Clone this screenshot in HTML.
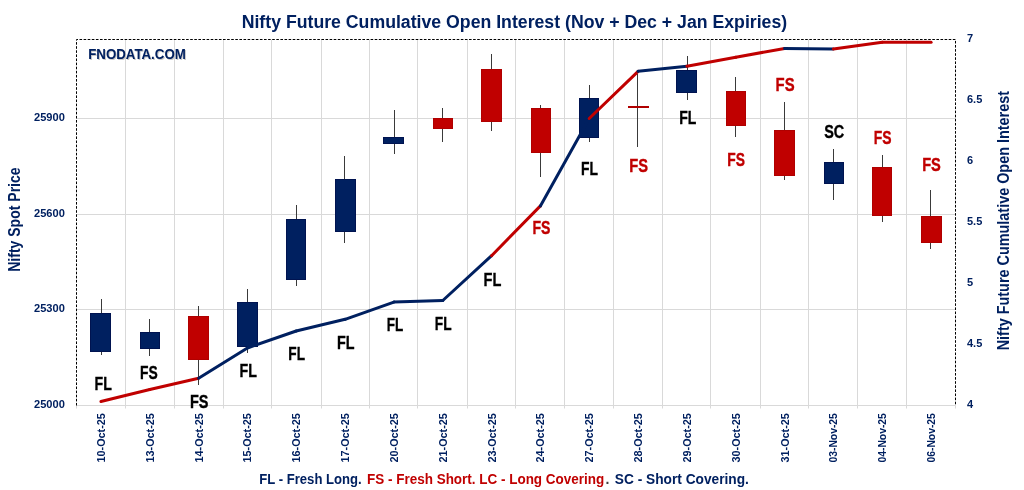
<!DOCTYPE html><html><head><meta charset="utf-8"><style>html,body{margin:0;padding:0;background:#fff;}svg{display:block;will-change:transform;}text{font-family:"Liberation Sans",sans-serif;font-weight:bold;}</style></head><body>
<svg width="1024" height="490" viewBox="0 0 1024 490">
<rect x="0" y="0" width="1024" height="490" fill="#fff"/>
<path d="M76.5 118.5H955.5 M76.5 214.5H955.5 M76.5 309.5H955.5 M76.5 405.5H955.5 M76.5 405.5V408.5 M125.5 39.5V408.5 M174.5 39.5V408.5 M223.5 39.5V408.5 M271.5 39.5V408.5 M321.5 39.5V408.5 M369.5 39.5V408.5 M417.5 39.5V408.5 M467.5 39.5V408.5 M515.5 39.5V408.5 M564.5 39.5V408.5 M613.5 39.5V408.5 M662.5 39.5V408.5 M710.5 39.5V408.5 M760.5 39.5V408.5 M808.5 39.5V408.5 M857.5 39.5V408.5 M906.5 39.5V408.5 M955.5 405.5V408.5" stroke="#d9d9d9" stroke-width="1" fill="none"/>
<path d="M101.5 299V355" stroke="#3a3a3a" stroke-width="1"/>
<rect x="90.5" y="313.5" width="20" height="38" fill="#002060" stroke="#001350" stroke-width="1"/>
<path d="M149.5 319V356" stroke="#3a3a3a" stroke-width="1"/>
<rect x="140.5" y="332.5" width="19" height="16" fill="#002060" stroke="#001350" stroke-width="1"/>
<path d="M198.5 306V385" stroke="#3a3a3a" stroke-width="1"/>
<rect x="188.5" y="316.5" width="20" height="43" fill="#C00000" stroke="#b00000" stroke-width="1"/>
<path d="M247.5 289V353" stroke="#3a3a3a" stroke-width="1"/>
<rect x="237.5" y="302.5" width="20" height="44" fill="#002060" stroke="#001350" stroke-width="1"/>
<path d="M296.5 205V286" stroke="#3a3a3a" stroke-width="1"/>
<rect x="286.5" y="219.5" width="19" height="60" fill="#002060" stroke="#001350" stroke-width="1"/>
<path d="M344.5 156V243" stroke="#3a3a3a" stroke-width="1"/>
<rect x="335.5" y="179.5" width="20" height="52" fill="#002060" stroke="#001350" stroke-width="1"/>
<path d="M394.5 110V154" stroke="#3a3a3a" stroke-width="1"/>
<rect x="383.5" y="137.5" width="20" height="6" fill="#002060" stroke="#001350" stroke-width="1"/>
<path d="M442.5 108V142" stroke="#3a3a3a" stroke-width="1"/>
<rect x="433.5" y="118.5" width="19" height="10" fill="#C00000" stroke="#b00000" stroke-width="1"/>
<path d="M491.5 54V131" stroke="#3a3a3a" stroke-width="1"/>
<rect x="481.5" y="69.5" width="20" height="52" fill="#C00000" stroke="#b00000" stroke-width="1"/>
<path d="M540.5 105V177" stroke="#3a3a3a" stroke-width="1"/>
<rect x="531.5" y="108.5" width="19" height="44" fill="#C00000" stroke="#b00000" stroke-width="1"/>
<path d="M589.5 85V142" stroke="#3a3a3a" stroke-width="1"/>
<rect x="579.5" y="98.5" width="19" height="39" fill="#002060" stroke="#001350" stroke-width="1"/>
<path d="M637.5 74V147" stroke="#3a3a3a" stroke-width="1"/>
<rect x="628.5" y="106.5" width="20" height="1" fill="#C00000" stroke="#b00000" stroke-width="1"/>
<path d="M687.5 56V100" stroke="#3a3a3a" stroke-width="1"/>
<rect x="676.5" y="70.5" width="20" height="22" fill="#002060" stroke="#001350" stroke-width="1"/>
<path d="M735.5 77V137" stroke="#3a3a3a" stroke-width="1"/>
<rect x="726.5" y="91.5" width="19" height="34" fill="#C00000" stroke="#b00000" stroke-width="1"/>
<path d="M784.5 102V180" stroke="#3a3a3a" stroke-width="1"/>
<rect x="774.5" y="130.5" width="20" height="45" fill="#C00000" stroke="#b00000" stroke-width="1"/>
<path d="M833.5 149V200" stroke="#3a3a3a" stroke-width="1"/>
<rect x="824.5" y="162.5" width="19" height="21" fill="#002060" stroke="#001350" stroke-width="1"/>
<path d="M882.5 155V222" stroke="#3a3a3a" stroke-width="1"/>
<rect x="872.5" y="167.5" width="19" height="48" fill="#C00000" stroke="#b00000" stroke-width="1"/>
<path d="M930.5 190V249" stroke="#3a3a3a" stroke-width="1"/>
<rect x="921.5" y="216.5" width="20" height="26" fill="#C00000" stroke="#b00000" stroke-width="1"/>
<path d="M100.9 401.5L149.8 389.5" stroke="#C00000" stroke-width="3" stroke-linecap="round" fill="none"/>
<path d="M149.8 389.5L198.6 378.2" stroke="#C00000" stroke-width="3" stroke-linecap="round" fill="none"/>
<path d="M198.6 378.2L247.4 348.0" stroke="#002060" stroke-width="3" stroke-linecap="round" fill="none"/>
<path d="M247.4 348.0L296.2 331.0" stroke="#002060" stroke-width="3" stroke-linecap="round" fill="none"/>
<path d="M296.2 331.0L345.1 319.3" stroke="#002060" stroke-width="3" stroke-linecap="round" fill="none"/>
<path d="M345.1 319.3L393.9 302.1" stroke="#002060" stroke-width="3" stroke-linecap="round" fill="none"/>
<path d="M393.9 302.1L442.8 300.5" stroke="#002060" stroke-width="3" stroke-linecap="round" fill="none"/>
<path d="M442.8 300.5L491.6 255.7" stroke="#002060" stroke-width="3" stroke-linecap="round" fill="none"/>
<path d="M491.6 255.7L540.4 205.9" stroke="#C00000" stroke-width="3" stroke-linecap="round" fill="none"/>
<path d="M540.4 205.9L589.2 118.5" stroke="#002060" stroke-width="3" stroke-linecap="round" fill="none"/>
<path d="M589.2 118.5L638.1 71.3" stroke="#C00000" stroke-width="3" stroke-linecap="round" fill="none"/>
<path d="M638.1 71.3L686.9 66.3" stroke="#002060" stroke-width="3" stroke-linecap="round" fill="none"/>
<path d="M686.9 66.3L735.8 57.2" stroke="#C00000" stroke-width="3" stroke-linecap="round" fill="none"/>
<path d="M735.8 57.2L784.6 48.4" stroke="#C00000" stroke-width="3" stroke-linecap="round" fill="none"/>
<path d="M784.6 48.4L833.4 49.1" stroke="#002060" stroke-width="3" stroke-linecap="round" fill="none"/>
<path d="M833.4 49.1L882.2 42.3" stroke="#C00000" stroke-width="3" stroke-linecap="round" fill="none"/>
<path d="M882.2 42.3L931.1 42.3" stroke="#C00000" stroke-width="3" stroke-linecap="round" fill="none"/>
<path d="M76.5 405.5V39.5H955.5V405.5" fill="none" stroke="#000" stroke-width="1" stroke-dasharray="2.6 1.5"/>
<text x="94.6" y="389.8" font-size="18" fill="#000" stroke="#000" stroke-width="0.35" textLength="17.3" lengthAdjust="spacingAndGlyphs">FL</text>
<text x="140.0" y="378.7" font-size="18" fill="#000" stroke="#000" stroke-width="0.35" textLength="17.7" lengthAdjust="spacingAndGlyphs">FS</text>
<text x="190.0" y="407.7" font-size="18" fill="#000" stroke="#000" stroke-width="0.35" textLength="18.5" lengthAdjust="spacingAndGlyphs">FS</text>
<text x="239.6" y="376.5" font-size="18" fill="#000" stroke="#000" stroke-width="0.35" textLength="17.4" lengthAdjust="spacingAndGlyphs">FL</text>
<text x="288.3" y="360.0" font-size="18" fill="#000" stroke="#000" stroke-width="0.35" textLength="16.7" lengthAdjust="spacingAndGlyphs">FL</text>
<text x="337.0" y="348.7" font-size="18" fill="#000" stroke="#000" stroke-width="0.35" textLength="17.5" lengthAdjust="spacingAndGlyphs">FL</text>
<text x="386.7" y="330.5" font-size="18" fill="#000" stroke="#000" stroke-width="0.35" textLength="16.5" lengthAdjust="spacingAndGlyphs">FL</text>
<text x="434.8" y="329.8" font-size="18" fill="#000" stroke="#000" stroke-width="0.35" textLength="16.8" lengthAdjust="spacingAndGlyphs">FL</text>
<text x="483.6" y="286.0" font-size="18" fill="#000" stroke="#000" stroke-width="0.35" textLength="17.8" lengthAdjust="spacingAndGlyphs">FL</text>
<text x="532.4" y="234.1" font-size="18" fill="#C00000" stroke="#C00000" stroke-width="0.35" textLength="18.0" lengthAdjust="spacingAndGlyphs">FS</text>
<text x="581.1" y="174.8" font-size="18" fill="#000" stroke="#000" stroke-width="0.35" textLength="17.0" lengthAdjust="spacingAndGlyphs">FL</text>
<text x="629.3" y="172.0" font-size="18" fill="#C00000" stroke="#C00000" stroke-width="0.35" textLength="18.8" lengthAdjust="spacingAndGlyphs">FS</text>
<text x="679.2" y="124.1" font-size="18" fill="#000" stroke="#000" stroke-width="0.35" textLength="17.1" lengthAdjust="spacingAndGlyphs">FL</text>
<text x="727.3" y="165.6" font-size="18" fill="#C00000" stroke="#C00000" stroke-width="0.35" textLength="17.7" lengthAdjust="spacingAndGlyphs">FS</text>
<text x="775.6" y="91.0" font-size="18" fill="#C00000" stroke="#C00000" stroke-width="0.35" textLength="19.0" lengthAdjust="spacingAndGlyphs">FS</text>
<text x="824.2" y="138.2" font-size="18" fill="#000" stroke="#000" stroke-width="0.35" textLength="20.0" lengthAdjust="spacingAndGlyphs">SC</text>
<text x="873.7" y="144.3" font-size="18" fill="#C00000" stroke="#C00000" stroke-width="0.35" textLength="17.8" lengthAdjust="spacingAndGlyphs">FS</text>
<text x="922.2" y="171.4" font-size="18" fill="#C00000" stroke="#C00000" stroke-width="0.35" textLength="18.7" lengthAdjust="spacingAndGlyphs">FS</text>
<text x="241.7" y="28.4" font-size="18" fill="#002060" textLength="545.5" lengthAdjust="spacingAndGlyphs">Nifty Future Cumulative Open Interest (Nov + Dec + Jan Expiries)</text>
<text x="89.2" y="60" font-size="14" fill="#c8c8c8" textLength="97.6" lengthAdjust="spacingAndGlyphs">FNODATA.COM</text>
<text x="88.2" y="59" font-size="14" fill="#002060" textLength="97.6" lengthAdjust="spacingAndGlyphs">FNODATA.COM</text>
<text x="64.8" y="121.2" font-size="11" fill="#002060" text-anchor="end" textLength="30.8" lengthAdjust="spacingAndGlyphs">25900</text>
<text x="64.8" y="216.7" font-size="11" fill="#002060" text-anchor="end" textLength="30.8" lengthAdjust="spacingAndGlyphs">25600</text>
<text x="64.8" y="312.2" font-size="11" fill="#002060" text-anchor="end" textLength="30.8" lengthAdjust="spacingAndGlyphs">25300</text>
<text x="64.8" y="408.2" font-size="11" fill="#002060" text-anchor="end" textLength="30.8" lengthAdjust="spacingAndGlyphs">25000</text>
<text x="967" y="408.3" font-size="11" fill="#002060">4</text>
<text x="967" y="347.3" font-size="11" fill="#002060">4.5</text>
<text x="967" y="286.3" font-size="11" fill="#002060">5</text>
<text x="967" y="225.3" font-size="11" fill="#002060">5.5</text>
<text x="967" y="164.3" font-size="11" fill="#002060">6</text>
<text x="967" y="103.3" font-size="11" fill="#002060">6.5</text>
<text x="967" y="42.3" font-size="11" fill="#002060">7</text>
<text transform="translate(104.9,462.5) rotate(-90)" x="0" y="0" font-size="11.5" fill="#002060" textLength="49.3" lengthAdjust="spacingAndGlyphs">10-Oct-25</text>
<text transform="translate(153.8,462.5) rotate(-90)" x="0" y="0" font-size="11.5" fill="#002060" textLength="49.3" lengthAdjust="spacingAndGlyphs">13-Oct-25</text>
<text transform="translate(202.6,462.5) rotate(-90)" x="0" y="0" font-size="11.5" fill="#002060" textLength="49.3" lengthAdjust="spacingAndGlyphs">14-Oct-25</text>
<text transform="translate(251.4,462.5) rotate(-90)" x="0" y="0" font-size="11.5" fill="#002060" textLength="49.3" lengthAdjust="spacingAndGlyphs">15-Oct-25</text>
<text transform="translate(300.2,462.5) rotate(-90)" x="0" y="0" font-size="11.5" fill="#002060" textLength="49.3" lengthAdjust="spacingAndGlyphs">16-Oct-25</text>
<text transform="translate(349.1,462.5) rotate(-90)" x="0" y="0" font-size="11.5" fill="#002060" textLength="49.3" lengthAdjust="spacingAndGlyphs">17-Oct-25</text>
<text transform="translate(397.9,462.5) rotate(-90)" x="0" y="0" font-size="11.5" fill="#002060" textLength="49.3" lengthAdjust="spacingAndGlyphs">20-Oct-25</text>
<text transform="translate(446.8,462.5) rotate(-90)" x="0" y="0" font-size="11.5" fill="#002060" textLength="49.3" lengthAdjust="spacingAndGlyphs">21-Oct-25</text>
<text transform="translate(495.6,462.5) rotate(-90)" x="0" y="0" font-size="11.5" fill="#002060" textLength="49.3" lengthAdjust="spacingAndGlyphs">23-Oct-25</text>
<text transform="translate(544.4,462.5) rotate(-90)" x="0" y="0" font-size="11.5" fill="#002060" textLength="49.3" lengthAdjust="spacingAndGlyphs">24-Oct-25</text>
<text transform="translate(593.2,462.5) rotate(-90)" x="0" y="0" font-size="11.5" fill="#002060" textLength="49.3" lengthAdjust="spacingAndGlyphs">27-Oct-25</text>
<text transform="translate(642.1,462.5) rotate(-90)" x="0" y="0" font-size="11.5" fill="#002060" textLength="49.3" lengthAdjust="spacingAndGlyphs">28-Oct-25</text>
<text transform="translate(690.9,462.5) rotate(-90)" x="0" y="0" font-size="11.5" fill="#002060" textLength="49.3" lengthAdjust="spacingAndGlyphs">29-Oct-25</text>
<text transform="translate(739.8,462.5) rotate(-90)" x="0" y="0" font-size="11.5" fill="#002060" textLength="49.3" lengthAdjust="spacingAndGlyphs">30-Oct-25</text>
<text transform="translate(788.6,462.5) rotate(-90)" x="0" y="0" font-size="11.5" fill="#002060" textLength="49.3" lengthAdjust="spacingAndGlyphs">31-Oct-25</text>
<text transform="translate(837.4,462.5) rotate(-90)" x="0" y="0" font-size="11.5" fill="#002060" textLength="49.3" lengthAdjust="spacingAndGlyphs">03-Nov-25</text>
<text transform="translate(886.2,462.5) rotate(-90)" x="0" y="0" font-size="11.5" fill="#002060" textLength="49.3" lengthAdjust="spacingAndGlyphs">04-Nov-25</text>
<text transform="translate(935.1,462.5) rotate(-90)" x="0" y="0" font-size="11.5" fill="#002060" textLength="49.3" lengthAdjust="spacingAndGlyphs">06-Nov-25</text>
<text transform="translate(20.4,271.8) rotate(-90)" font-size="16" fill="#002060" textLength="104.4" lengthAdjust="spacingAndGlyphs">Nifty Spot Price</text>
<text transform="translate(1009.1,350.3) rotate(-90)" font-size="15.8" fill="#002060" textLength="259.3" lengthAdjust="spacingAndGlyphs">Nifty Future Cumulative Open Interest</text>
<text x="259.3" y="483.8" font-size="14" fill="#002060" textLength="102.4" lengthAdjust="spacingAndGlyphs">FL - Fresh Long.</text>
<text x="367.1" y="483.8" font-size="14" fill="#C00000" textLength="237.1" lengthAdjust="spacingAndGlyphs">FS - Fresh Short. LC - Long Covering</text>
<text x="605.4" y="483.8" font-size="14" fill="#404040">.</text>
<text x="614.8" y="483.8" font-size="14" fill="#002060" textLength="134.1" lengthAdjust="spacingAndGlyphs">SC - Short Covering.</text>
</svg></body></html>
